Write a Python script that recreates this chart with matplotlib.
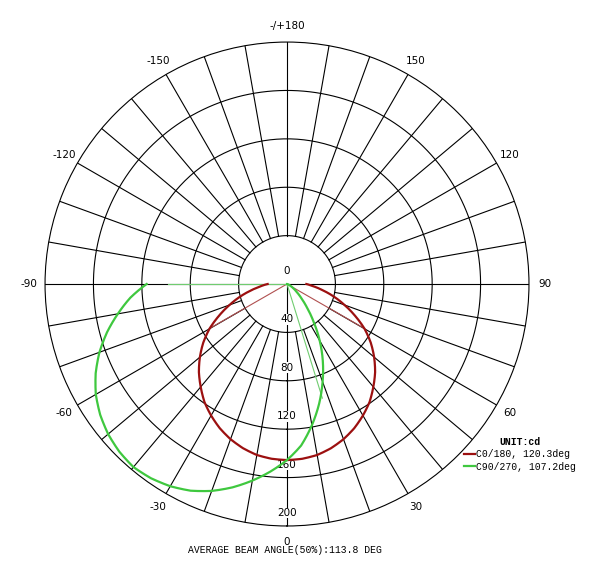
import matplotlib.pyplot as plt
import numpy as np

# luminous intensity (cd), every 5 deg from -90 to 90
angles = np.arange(-90, 95, 5)
c0_cd = [16, 22, 30, 40, 50.5, 62, 74, 84.5, 94, 103, 111, 119, 125.5, 131.5,
         136.5, 140.5, 143.5, 145, 145.5, 145, 143.5, 140.5, 136.5, 131.5, 125.5,
         119, 111, 103, 94, 84.5, 74, 62, 50.5, 40, 30, 22, 16]
c90_cd = [116, 130, 142, 154, 165, 174.5, 182.5, 188.5, 193, 196, 197.5, 196, 193,
          188.5, 182, 174, 165, 155.5, 145.5, 134, 118.5, 102.5, 86, 70, 54, 38.5, 26,
          17, 11, 7, 4, 2.5, 1.5, 1, 0.5, 0.2, 0]

beam_c0 = 120.3
beam_c90 = 107.2
beam_avg = 113.8
c90_left_edge = -90

r_ticks = [0, 40, 80, 120, 160, 200]
theta_ticks = [-150, -120, -90, -60, -30, 0, 30, 60, 90, 120, 150, 180]
theta_labels = ['-150', '-120', '-90', '-60', '-30', '0', '30', '60', '90',
                '120', '150', '-/+180']

RED = '#9c1010'
GREEN = '#3fc83f'
SANS = 'DejaVu Sans'
MONO = 'Liberation Mono'

fig = plt.figure(figsize=(6, 5.66), dpi=100)
ax = fig.add_axes([0.075, 0.0707, 0.8067, 0.855], projection='polar')
ax.set_theta_zero_location('S')
ax.set_theta_direction(1)
ax.set_ylim(0, 200)
ax.set_xticks([])
ax.set_yticks([])
ax.grid(False)
ax.spines['polar'].set_linewidth(0.8)
ax.spines['polar'].set_color('black')

# rings
ring = np.linspace(0, 2 * np.pi, 400)
for r in r_ticks[1:-1]:
    ax.plot(ring, np.full_like(ring, r), color='black', lw=0.8, zorder=1)

# spokes every 10 deg, starting at the inner ring
for deg in range(-170, 190, 10):
    inner = 0 if deg in (0, 90, -90) else 40
    t = np.deg2rad(deg)
    ax.plot([t, t], [inner, 200], color='black', lw=0.8, zorder=1)

# curves (let the polar transform draw arcs between the read points)
t = np.deg2rad(angles)
l0, = ax.plot(t, c0_cd, color=RED, lw=1.6, zorder=3)
l90, = ax.plot(t, c90_cd, color=GREEN, lw=1.6, zorder=3)
for line in (l0, l90):
    line.get_path()._interpolation_steps = 12

# half-intensity beam lines
for a in (-beam_c0 / 2, beam_c0 / 2):
    ax.plot([0, np.deg2rad(a)], [0, max(c0_cd) / 2], color='#b05050', lw=0.8, zorder=2)
for a in (c90_left_edge, c90_left_edge + beam_c90):
    ax.plot([0, np.deg2rad(a)], [0, max(c90_cd) / 2], color='#70cc70', lw=0.8, zorder=2)

# radial labels, just above each ring along the 0 direction (under the curves)
for r in r_ticks:
    ax.annotate(str(r), xy=(0, r), xytext=(0, 13), textcoords='offset pixels',
                ha='center', va='center', fontsize=7.5, family=SANS,
                bbox=dict(facecolor='white', edgecolor='none', pad=0.3), zorder=1.5)

# angle labels outside the rim
for deg, lab in zip(theta_ticks, theta_labels):
    ax.text(np.deg2rad(deg), 213, lab, ha='center', va='center',
            fontsize=7.5, family=SANS, clip_on=False)

leg = fig.legend([l0, l90], [f'C0/180, {beam_c0}deg', f'C90/270, {beam_c90}deg'],
                 loc='upper left', bbox_to_anchor=(464 / 600, 1 - 437 / 566),
                 bbox_transform=fig.transFigure, frameon=False,
                 prop={'family': MONO, 'size': 7}, title='UNIT:cd',
                 title_fontproperties={'family': MONO, 'size': 7, 'weight': 'bold'},
                 handlelength=1.1, handletextpad=0.1, labelspacing=0.25,
                 borderpad=0, borderaxespad=0)

fig.text(0.475, 1 - 550 / 566, f'AVERAGE BEAM ANGLE(50%):{beam_avg} DEG',
         ha='center', va='center', family=MONO, fontsize=7)

fig.savefig('out.png', dpi=100)
